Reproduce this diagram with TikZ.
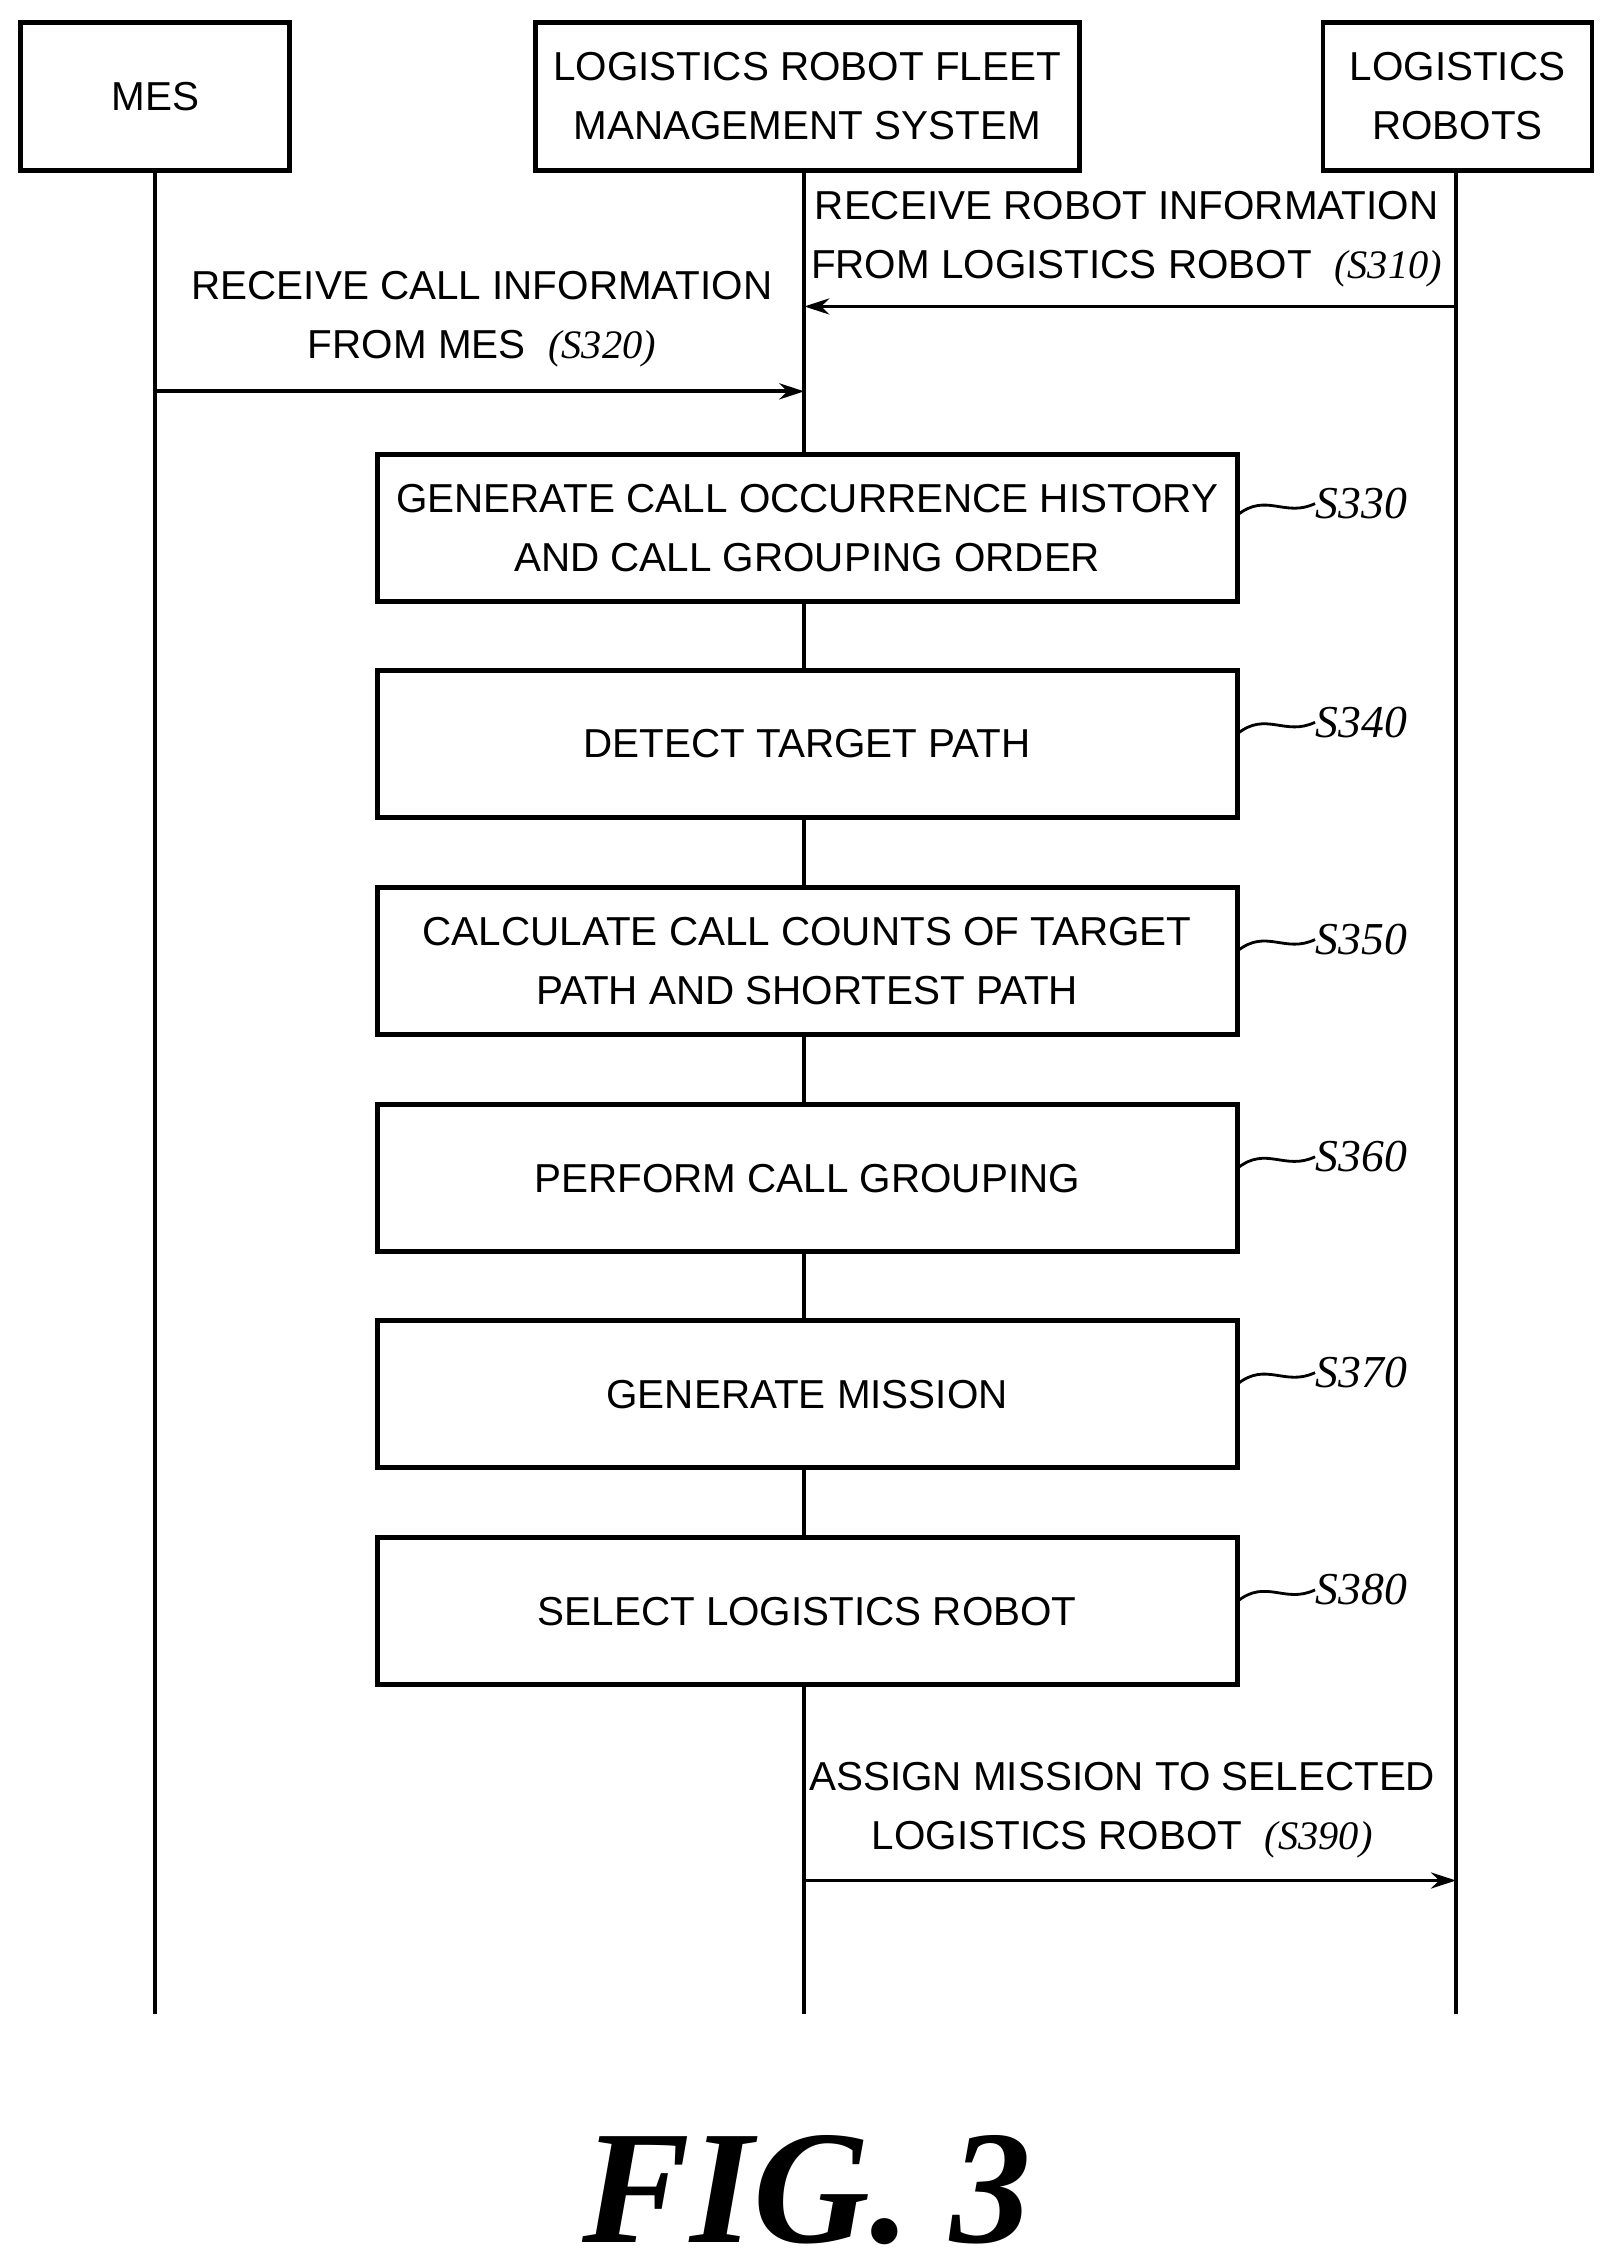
\documentclass[tikz,border=0pt]{standalone}
\usepackage{fontspec}
\setmainfont{Liberation Sans}
\newfontfamily\stepfont{Liberation Serif}
\usetikzlibrary{arrows.meta}
\usetikzlibrary{positioning}

\tikzset{
  actor/.style={draw, line width=1.4pt, minimum width=2.69cm, minimum height=1.48cm, align=center, font=\fontsize{11.5}{16.8}\selectfont},
  procbox/.style={draw, line width=1.4pt, minimum width=8.6cm, minimum height=1.47cm, align=center, font=\fontsize{11.5}{16.8}\selectfont},
  steplabel/.style={font=\stepfont\itshape\fontsize{13}{15}\selectfont, anchor=west, inner sep=0pt},
  msg/.style={align=center, font=\fontsize{11.5}{16.8}\selectfont},
  lifeline/.style={line width=1.1pt},
  call/.style={line width=1.1pt, -{Stealth[length=2.5mm, width=1.6mm]}}
}

\begin{document}
\begin{tikzpicture}[x=0.01439cm, y=-0.01439cm]
\useasboundingbox (0,0) rectangle (1123,1568);

\path
(108,67) node[actor] (mes) {MES}
(561,67) node[actor, minimum width=5.44cm] (fms) {LOGISTICS ROBOT FLEET\\MANAGEMENT SYSTEM}
(1013,67) node[actor] (robots) {LOGISTICS\\ROBOTS};

\path
(108,1400) coordinate (mesend)
(559,1400) coordinate (fmsend)
(1012,1400) coordinate (robotsend);

\draw[lifeline] (108,118) -- (mesend);
\draw[lifeline] (559,118) -- (fmsend);
\draw[lifeline] (1012,118) -- (robotsend);

% boxes on the fleet management lifeline
\path
(561,367) node[procbox, fill=white] (s330) {GENERATE CALL OCCURRENCE HISTORY\\AND CALL GROUPING ORDER}
(561,517) node[procbox, fill=white] (s340) {DETECT TARGET PATH}
(561,668) node[procbox, fill=white] (s350) {CALCULATE CALL COUNTS OF TARGET\\PATH AND SHORTEST PATH}
(561,819) node[procbox, fill=white] (s360) {PERFORM CALL GROUPING}
(561,969) node[procbox, fill=white] (s370) {GENERATE MISSION}
(561,1120) node[procbox, fill=white] (s380) {SELECT LOGISTICS ROBOT};

\foreach \n/\y in {330/350, 340/502, 350/653, 360/804, 370/954, 380/1105} {
  \node[steplabel] (l\n) at (914,\y) {S\n};
  \draw[line width=0.8pt] (860,\y+8) .. controls (880,\y-8) and (893,\y+10) .. (l\n.west);
}

% messages
\path
(1012,213) coordinate (in310)
(559,213) coordinate (out310)
(108,272) coordinate (in320)
(559,272) coordinate (out320)
(559,1307) coordinate (in390)
(1012,1307) coordinate (out390);

\draw[call] (in310) -- (out310);
\draw[call] (in320) -- (out320);
\draw[call] (in390) -- (out390);

\path
(783,166) node[msg] (m310) {RECEIVE ROBOT INFORMATION\\FROM LOGISTICS ROBOT\ \ {\stepfont\itshape (S310)}}
(335,222) node[msg] (m320) {RECEIVE CALL INFORMATION\\FROM MES\ \ {\stepfont\itshape (S320)}}
(780,1258) node[msg] (m390) {ASSIGN MISSION TO SELECTED\\LOGISTICS ROBOT\ \ {\stepfont\itshape (S390)}};

\node[font=\stepfont\bfseries\itshape\fontsize{46}{50}\selectfont] (fig) at (561,1522) {FIG. 3};

\end{tikzpicture}
\end{document}
